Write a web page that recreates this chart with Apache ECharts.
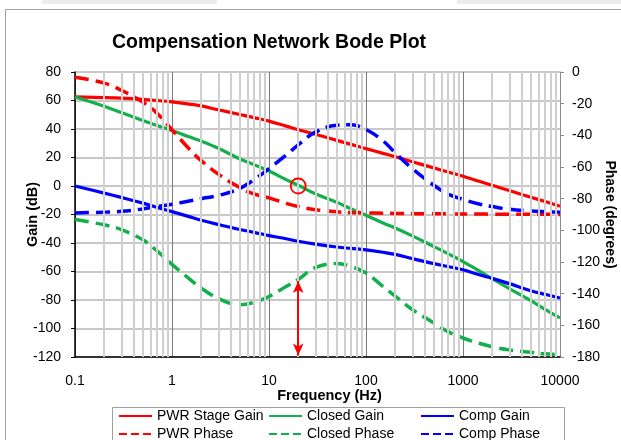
<!DOCTYPE html>
<html>
<head>
<meta charset="utf-8">
<script src="https://cdn.jsdelivr.net/npm/echarts@6/dist/echarts.min.js"></script>
<style>
html,body{margin:0;padding:0;background:#fff;}
#c{width:621px;height:440px;}
</style>
</head>
<body>
<div id="c"></div>
<script>
// ---- data ----
const freq = [0.1,0.2,0.3,0.5,0.7,1,1.5,2,3,5,7,10,15,20,30,50,70,100,150,200,300,500,700,1000,1500,2000,3000,5000,7000,10000];
const pwrGain = [62.5,62,61.6,60.8,60,59,57.5,56.2,53.5,50.2,48,45.5,42,39.5,36.3,32,29.2,26.2,22.9,20.5,17,12.7,9.8,6.8,3.1,0.5,-3.2,-7.9,-10.9,-14.2];
const closedGain = [62.5,56,51.5,46,42.5,39,34.5,31.5,26.5,19,15,10.5,4.5,0.5,-5.5,-11.5,-16,-20.5,-26,-29.5,-35,-42.5,-47.5,-53,-60,-65,-72,-80.5,-86.5,-92.6];
const compGain = [0,-5,-8,-12,-15,-18,-21.5,-24,-27,-30.5,-32.5,-34.8,-37,-38.8,-40.8,-42.8,-43.8,-44.8,-46.5,-48,-51,-54.5,-56.5,-58.8,-62.5,-64.8,-68.5,-73.5,-76,-78.6];
const pwrPhase = [-3.3,-7,-11.5,-19,-26,-36.5,-48.5,-56,-64.5,-73,-77,-79.5,-83,-85,-87,-88.3,-88.8,-89,-89.2,-89.3,-89.5,-89.5,-89.6,-89.7,-89.7,-89.8,-89.8,-89.9,-89.9,-90];
const closedPhase = [-93.2,-96.5,-99.5,-106,-113,-121.5,-130.5,-136.5,-143,-147,-145.5,-141.8,-135.5,-131,-123.5,-121,-122.8,-127,-135.5,-141.5,-150,-158.5,-164,-168,-171.5,-173.5,-175.5,-177,-178,-178.5];
const compPhase = [-89,-88.5,-88,-86.5,-85,-83.5,-81.5,-80,-78,-73.5,-68,-61,-52.5,-46,-38,-33.6,-33.3,-36.3,-43.5,-51,-61,-71.5,-77,-80.5,-83.5,-85,-86.7,-87.8,-88.2,-88.5];
const freqTicks = [0.1,1,10,100,1000,10000];
const tickLabels = ['0.1','1','10','100','1000','10000'];
const crossover = [20, 0];       // circled 0 dB crossover (Hz, dB)
const marginArrow = [20, -132, -179]; // phase margin arrow (Hz, phase top, phase bottom)

// minor log gridline positions (2..9 per decade)
const minorGrid = [];
for (let d = 0.1; d < 10000; d *= 10) for (let k = 2; k <= 9; k++) minorGrid.push(+(d * k).toPrecision(3));

const pair = (vals) => freq.map((f, i) => [f, vals[i]]);
const RED = '#ff0000', GREEN = '#12b04a', BLUE = '#0000ff';
const FONT = 'Liberation Sans';

function lineSeries(name, vals, color, dashed, yIdx) {
  return {
    name, type: 'line', yAxisIndex: yIdx, data: pair(vals), smooth: 0.4,
    symbol: 'none', showSymbol: false, z: 3,
    lineStyle: { color, width: dashed ? 3.5 : 3.2, type: dashed ? 'dashed' : 'solid', cap: 'butt' },
    itemStyle: { color }
  };
}

const chart = echarts.init(document.getElementById('c'), null, { renderer: 'canvas' });
const legendCommon = { itemWidth: 33, itemHeight: 12, padding: 0, selectedMode: false,
  itemStyle: { opacity: 0 },
  textStyle: { fontFamily: FONT, fontSize: 14, color: '#000' } };
chart.setOption({
  animation: false,
  backgroundColor: '#fff',
  textStyle: { fontFamily: FONT },
  title: { text: 'Compensation Network Bode Plot', left: 264, top: 28, textAlign: 'center',
    textStyle: { fontFamily: FONT, fontSize: 19.5, fontWeight: 'bold', color: '#000' } },
  graphic: [
    { type: 'rect', shape: { x: 42, y: 0, width: 175, height: 4 }, style: { fill: '#ececec' }, silent: true },
    { type: 'rect', shape: { x: 457, y: 0, width: 170, height: 4 }, style: { fill: '#ececec' }, silent: true },
    { type: 'rect', shape: { x: 5.5, y: 9.5, width: 700, height: 500 }, style: { fill: 'none', stroke: '#a0a0a0', lineWidth: 1 }, silent: true, z: -10 },
    { type: 'rect', shape: { x: 112.5, y: 407.5, width: 452, height: 40 }, style: { fill: 'none', stroke: '#a0a0a0', lineWidth: 1 }, silent: true }
  ],
  grid: { left: 75, top: 72, width: 485, height: 285, containLabel: false, outerBoundsMode: 'none' },
  legend: [
    Object.assign({ data: ['PWR Stage Gain'], left: 118, top: 409 }, legendCommon),
    Object.assign({ data: ['Closed Gain'], left: 268, top: 409 }, legendCommon),
    Object.assign({ data: ['Comp Gain'], left: 420, top: 409 }, legendCommon),
    Object.assign({ data: ['PWR Phase'], left: 118, top: 427 }, legendCommon),
    Object.assign({ data: ['Closed Phase'], left: 268, top: 427 }, legendCommon),
    Object.assign({ data: ['Comp Phase'], left: 420, top: 427 }, legendCommon)
  ],
  xAxis: {
    type: 'log', logBase: 10, min: freqTicks[0], max: freqTicks[freqTicks.length - 1],
    name: 'Frequency (Hz)', nameLocation: 'middle', nameGap: 31, nameMoveOverlap: false,
    nameTextStyle: { fontFamily: FONT, fontSize: 14.5, fontWeight: 'bold', color: '#000', padding: [0, 0, 0, 24] },
    axisLine: { onZero: false, lineStyle: { color: '#000', width: 1.5 } },
    axisTick: { show: false },
    axisLabel: { margin: 17, fontSize: 14, color: '#000', fontFamily: FONT,
      formatter: (v) => { const i = freqTicks.findIndex(t => Math.abs(Math.log10(t) - Math.log10(v)) < 1e-6); return i >= 0 ? tickLabels[i] : ''; } },
    splitLine: { show: true, lineStyle: { color: '#7a7a7a', width: 1 } }
  },
  yAxis: [
    { type: 'value', min: -120, max: 80, interval: 20, position: 'left',
      name: 'Gain (dB)', nameLocation: 'middle', nameGap: 35, nameRotate: 90, nameMoveOverlap: false,
      nameTextStyle: { fontFamily: FONT, fontSize: 14.5, fontWeight: 'bold', color: '#000' },
      axisLine: { show: true, onZero: false, lineStyle: { color: '#000', width: 1.5 } },
      axisTick: { show: true, length: 4, lineStyle: { color: '#000' } },
      axisLabel: { margin: 14, fontSize: 14, color: '#000', fontFamily: FONT },
      splitLine: { show: true, lineStyle: { color: '#c8c8c8', width: 2 } } },
    { type: 'value', min: -180, max: 0, interval: 20, position: 'right',
      name: 'Phase (degrees)', nameLocation: 'middle', nameGap: 43, nameRotate: -90, nameMoveOverlap: false,
      nameTextStyle: { fontFamily: FONT, fontSize: 14, fontWeight: 'bold', color: '#000' },
      axisLine: { show: true, onZero: false, lineStyle: { color: '#8a8a8a', width: 1 } },
      axisTick: { show: true, length: 4, lineStyle: { color: '#8a8a8a' } },
      axisLabel: { margin: 12, fontSize: 14, color: '#000', fontFamily: FONT },
      splitLine: { show: false } }
  ],
  series: [
    { name: 'gridMinor', type: 'line', data: [], yAxisIndex: 0, z: 1, silent: true,
      markLine: { silent: true, symbol: ['none', 'none'], label: { show: false },
        lineStyle: { color: '#cfcfcf', width: 2, type: 'solid' }, emphasis: { disabled: true },
        data: minorGrid.map(v => ({ xAxis: v })) } },
    lineSeries('PWR Stage Gain', pwrGain, RED, false, 0),
    Object.assign(lineSeries('Closed Gain', closedGain, GREEN, false, 0), {
      markPoint: { silent: true, symbol: 'circle', symbolSize: 15, label: { show: false },
        itemStyle: { color: 'rgba(0,0,0,0)', borderColor: RED, borderWidth: 1.8 },
        data: [{ coord: crossover }] } }),
    lineSeries('Comp Gain', compGain, BLUE, false, 0),
    lineSeries('PWR Phase', pwrPhase, RED, true, 1),
    Object.assign(lineSeries('Closed Phase', closedPhase, GREEN, true, 1), {
      markLine: { silent: true, symbol: ['arrow', 'arrow'], symbolSize: [8, 12], label: { show: false },
        lineStyle: { color: RED, width: 2, type: 'solid' }, emphasis: { disabled: true },
        data: [[{ coord: [marginArrow[0], marginArrow[1]] }, { coord: [marginArrow[0], marginArrow[2]] }]] } }),
    lineSeries('Comp Phase', compPhase, BLUE, true, 1)
  ]
});
</script>
</body>
</html>
